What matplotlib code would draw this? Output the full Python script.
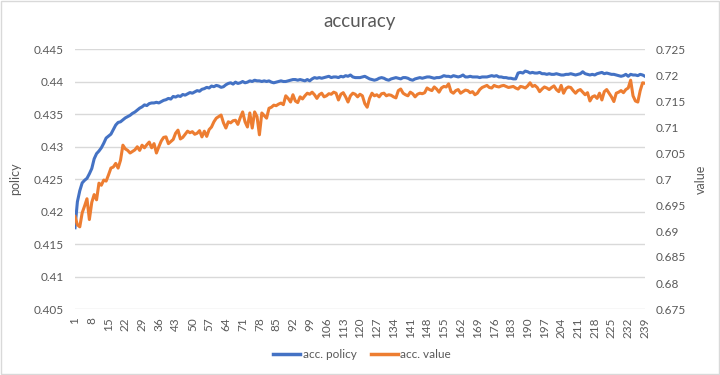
import numpy as np
import matplotlib
matplotlib.use("Agg")
import matplotlib.pyplot as plt
from matplotlib.lines import Line2D

plt.rcParams['font.family'] = ['Lato', 'DejaVu Sans']

# epochs 1..239
epochs = np.arange(1, 240)

# acc. policy (left axis)
policy = [
    0.4175, 0.4215, 0.4232, 0.4244, 0.4248, 0.4251, 0.4258, 0.4266, 0.4281, 0.4289,
    0.4293, 0.4298, 0.4305, 0.4313, 0.4316, 0.4319, 0.4326, 0.4333, 0.4337, 0.4338,
    0.4341, 0.4344, 0.4346, 0.4348, 0.4351, 0.4353, 0.4356, 0.4359, 0.4361, 0.4364,
    0.4363, 0.4366, 0.4367, 0.4367, 0.4368, 0.4367, 0.4369, 0.4371, 0.4372, 0.4374,
    0.4373, 0.4377, 0.4376, 0.4378, 0.4377, 0.4380, 0.4379, 0.4381, 0.4383, 0.4382,
    0.4384, 0.4386, 0.4385, 0.4388, 0.4389, 0.4391, 0.4390, 0.4393, 0.4392, 0.4394,
    0.4393, 0.4391, 0.4392, 0.4395, 0.4397, 0.4398, 0.4396, 0.4399, 0.4397, 0.4398,
    0.4400, 0.4398, 0.4399, 0.4401, 0.4400, 0.4402, 0.4401, 0.4401, 0.4400, 0.4401,
    0.4400, 0.4401, 0.4399, 0.4398, 0.4399, 0.4400, 0.4401, 0.4400, 0.4400, 0.4401,
    0.4402, 0.4403, 0.4403, 0.4402, 0.4403, 0.4402, 0.4401, 0.4403, 0.4401, 0.4404,
    0.4406, 0.4405, 0.4406, 0.4405, 0.4406, 0.4407, 0.4408, 0.4406, 0.4407, 0.4407,
    0.4406, 0.4408, 0.4407, 0.4409, 0.4408, 0.4410, 0.4407, 0.4406, 0.4406, 0.4406,
    0.4407, 0.4408, 0.4406, 0.4404, 0.4403, 0.4402, 0.4403, 0.4405, 0.4406, 0.4405,
    0.4403, 0.4402, 0.4404, 0.4405, 0.4406, 0.4405, 0.4404, 0.4406, 0.4406, 0.4405,
    0.4403, 0.4402, 0.4404, 0.4405, 0.4406, 0.4405, 0.4406, 0.4407, 0.4407, 0.4406,
    0.4405, 0.4406, 0.4406, 0.4407, 0.4409, 0.4408, 0.4408, 0.4407, 0.4409, 0.4408,
    0.4407, 0.4408, 0.4410, 0.4407, 0.4407, 0.4408, 0.4407, 0.4407, 0.4407, 0.4406,
    0.4407, 0.4407, 0.4407, 0.4408, 0.4409, 0.4408, 0.4409, 0.4407, 0.4407, 0.4406,
    0.4406, 0.4405, 0.4405, 0.4404, 0.4404, 0.4413, 0.4414, 0.4413, 0.4416, 0.4415,
    0.4413, 0.4414, 0.4413, 0.4413, 0.4414, 0.4412, 0.4412, 0.4411, 0.4412, 0.4411,
    0.4411, 0.4412, 0.4411, 0.4410, 0.4410, 0.4411, 0.4411, 0.4412, 0.4411, 0.4410,
    0.4411, 0.4412, 0.4415, 0.4412, 0.4411, 0.4410, 0.4411, 0.4410, 0.4412, 0.4413,
    0.4414, 0.4412, 0.4413, 0.4412, 0.4411, 0.4411, 0.4410, 0.4409, 0.4408, 0.4409,
    0.4411, 0.4408, 0.4411, 0.4410, 0.4410, 0.4409, 0.4411, 0.4410, 0.4408,
]

# acc. value (right axis)
value = [
    0.6928, 0.6912, 0.6908, 0.6935, 0.6948, 0.6962, 0.6922, 0.6955, 0.6970, 0.6960,
    0.6992, 0.6988, 0.6998, 0.6996, 0.7008, 0.7021, 0.7023, 0.7030, 0.7021, 0.7036,
    0.7065, 0.7058, 0.7055, 0.7050, 0.7053, 0.7056, 0.7062, 0.7055, 0.7065, 0.7060,
    0.7066, 0.7071, 0.7060, 0.7068, 0.7050, 0.7062, 0.7073, 0.7080, 0.7081, 0.7068,
    0.7072, 0.7076, 0.7088, 0.7094, 0.7077, 0.7080, 0.7086, 0.7092, 0.7089, 0.7091,
    0.7086, 0.7088, 0.7093, 0.7081, 0.7092, 0.7082, 0.7095, 0.7100, 0.7110, 0.7117,
    0.7120, 0.7123, 0.7108, 0.7098, 0.7110, 0.7108, 0.7112, 0.7113, 0.7105, 0.7118,
    0.7129, 0.7110, 0.7100, 0.7127, 0.7098, 0.7129, 0.7120, 0.7085, 0.7127, 0.7122,
    0.7117, 0.7136, 0.7138, 0.7142, 0.7141, 0.7144, 0.7146, 0.7143, 0.7160, 0.7155,
    0.7148, 0.7162, 0.7150, 0.7147, 0.7158, 0.7154, 0.7160, 0.7165, 0.7163, 0.7167,
    0.7162, 0.7155, 0.7162, 0.7165, 0.7158, 0.7160, 0.7164, 0.7163, 0.7167, 0.7165,
    0.7152, 0.7163, 0.7166, 0.7158, 0.7148, 0.7160, 0.7165, 0.7163, 0.7158, 0.7163,
    0.7160, 0.7145, 0.7138, 0.7155, 0.7165, 0.7160, 0.7162, 0.7158, 0.7164, 0.7165,
    0.7160, 0.7162, 0.7161, 0.7158, 0.7156, 0.7170, 0.7173, 0.7165, 0.7162, 0.7160,
    0.7167, 0.7164, 0.7158, 0.7163, 0.7165, 0.7164, 0.7166, 0.7175, 0.7172, 0.7170,
    0.7177, 0.7173, 0.7167, 0.7175, 0.7178, 0.7177, 0.7183, 0.7168, 0.7165, 0.7170,
    0.7172, 0.7165, 0.7168, 0.7171, 0.7170, 0.7166, 0.7168, 0.7162, 0.7165, 0.7172,
    0.7176, 0.7178, 0.7180, 0.7176, 0.7175, 0.7180, 0.7178, 0.7177, 0.7179, 0.7180,
    0.7178, 0.7176, 0.7177, 0.7178, 0.7175, 0.7173, 0.7178, 0.7177, 0.7175, 0.7179,
    0.7185, 0.7178, 0.7180, 0.7176, 0.7168, 0.7173, 0.7177, 0.7175, 0.7172, 0.7176,
    0.7179, 0.7172, 0.7168, 0.7180, 0.7165, 0.7174, 0.7177, 0.7176, 0.7170, 0.7165,
    0.7170, 0.7172, 0.7167, 0.7162, 0.7166, 0.7150, 0.7158, 0.7160, 0.7155, 0.7165,
    0.7152, 0.7168, 0.7172, 0.7165, 0.7158, 0.7149, 0.7165, 0.7167, 0.7170, 0.7166,
    0.7172, 0.7175, 0.7190, 0.7160, 0.7150, 0.7148, 0.7170, 0.7185, 0.7184,
]

left_ticks = [0.405, 0.41, 0.415, 0.42, 0.425, 0.43, 0.435, 0.44, 0.445]
left_labels = ['0.405', '0.41', '0.415', '0.42', '0.425', '0.43', '0.435', '0.44', '0.445']
right_ticks = [0.675, 0.68, 0.685, 0.69, 0.695, 0.7, 0.705, 0.71, 0.715, 0.72, 0.725]
right_labels = ['0.675', '0.68', '0.685', '0.69', '0.695', '0.7', '0.705', '0.71',
                '0.715', '0.72', '0.725']
x_ticks = list(range(1, 240, 7))

BLUE = '#4472C4'
ORANGE = '#ED7D31'
GREY = '#595959'
GRID = '#D9D9D9'

fig = plt.figure(figsize=(7.2, 3.75), dpi=100)
fig.patch.set_facecolor('white')
# chart border
fig.add_artist(plt.Rectangle((0.001, 0.002), 0.997, 0.995, transform=fig.transFigure,
                             fill=False, edgecolor=GRID, lw=1))

ax = fig.add_axes([75/720, 1-309/375, 570/720, 260/375])
ax2 = ax.twinx()

ax.plot(epochs, policy, color=BLUE, lw=2.2, solid_joinstyle='round', zorder=3)
ax2.plot(epochs, value, color=ORANGE, lw=2.2, solid_joinstyle='round', zorder=3)

ax.set_xlim(1, 239)
ax.set_ylim(0.405, 0.445)
ax2.set_ylim(0.675, 0.725)

ax.set_yticks(left_ticks)
ax.set_yticklabels(left_labels)
ax2.set_yticks(right_ticks)
ax2.set_yticklabels(right_labels)
ax.set_xticks(x_ticks)
ax.set_xticklabels([str(t) for t in x_ticks], rotation=90)

ax.grid(axis='y', color=GRID, lw=1)
ax.set_axisbelow(True)
for a in (ax, ax2):
    for s in a.spines.values():
        s.set_visible(False)
    a.tick_params(length=0, colors=GREY, labelsize=8.5)
ax.tick_params(axis='y', pad=8)
ax2.tick_params(axis='y', pad=8)
ax.tick_params(axis='x', pad=6)

ax.set_ylabel('policy', color=GREY, fontsize=9, labelpad=9)
ax2.set_ylabel('value', color=GREY, fontsize=9, labelpad=6, rotation=90)

fig.text(0.5, 1-22/375, 'accuracy', ha='center', va='center', fontsize=13.5, color=GREY)

handles = [Line2D([], [], color=BLUE, lw=2.5), Line2D([], [], color=ORANGE, lw=2.5)]
fig.legend(handles, ['acc. policy', 'acc. value'], loc='center', ncol=2,
           bbox_to_anchor=(0.503, 1-355/375), frameon=False, fontsize=8.5,
           handlelength=2.3, handletextpad=0.2, columnspacing=1.2, labelcolor=GREY)

fig.savefig('out.png', dpi=100)
